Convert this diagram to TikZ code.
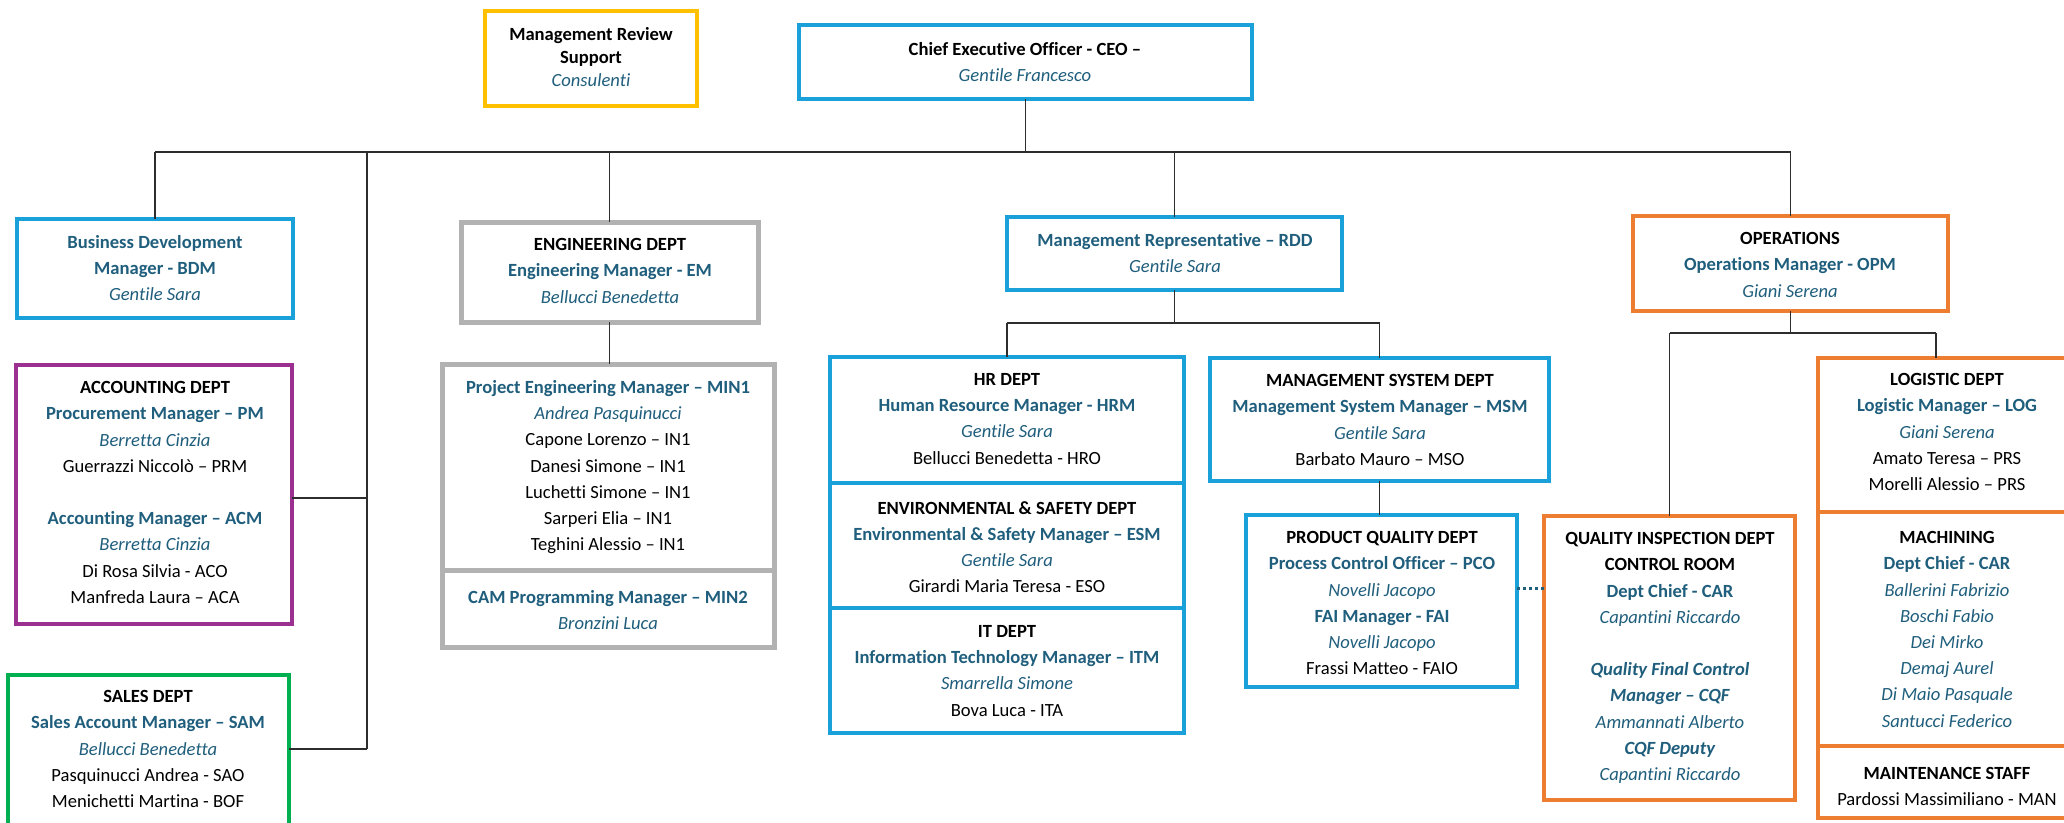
\documentclass[tikz,border=0pt]{standalone}
\usepackage{fontspec}
\setmainfont{Carlito}[Ligatures={NoCommon}]
\definecolor{tealtxt}{RGB}{31,94,124}
\definecolor{bluec}{RGB}{27,161,217}
\definecolor{orangec}{RGB}{237,125,49}
\definecolor{purplec}{RGB}{155,48,145}
\definecolor{greenc}{RGB}{0,176,80}
\definecolor{yellowc}{RGB}{255,192,0}
\definecolor{grayc}{RGB}{178,178,178}
\definecolor{linec}{RGB}{45,45,45}
\newcommand{\HeadT}[1]{\textbf{#1}}
\newcommand{\MgrT}[1]{\textcolor{tealtxt}{\textbf{#1}}}
\newcommand{\NameT}[1]{\textcolor{tealtxt}{\textit{#1}}}
\newcommand{\MgrIT}[1]{\textcolor{tealtxt}{\textbf{\textit{#1}}}}
\tikzset{
  bx/.style={draw=#1, line width=4pt, inner sep=0pt, outer sep=0pt, fill=none},
  txt/.style={inner sep=0pt, outer sep=0pt, align=center, anchor=north, yshift=-2.5pt,
    font=\fontsize{18.6pt}{26.2pt}\selectfont, execute at begin node={\rule{0pt}{15pt}}},
  conn/.style={draw=linec, line width=1.4pt},
  dotc/.style={draw=tealtxt, line width=3pt, dash pattern=on 3pt off 3pt}
}
\begin{document}
\begin{tikzpicture}[x=1pt,y=-1pt]
\useasboundingbox (0,0) rectangle (2064,822);
\clip (0,0) rectangle (2064,822);
\fill[white] (0,0) rectangle (2064,822);

% ---------- boxes ----------
\node[bx=yellowc, minimum width=212pt, minimum height=95pt] (mrs) at (591,58.5) {};
\node[bx=bluec, minimum width=453pt, minimum height=74pt] (ceo) at (1025.5,62) {};
\node[bx=bluec, minimum width=276pt, minimum height=99pt] (bdm) at (155,268.5) {};
\node[bx=grayc, line width=5pt, minimum width=297pt, minimum height=100pt] (eng) at (609.5,272) {};
\node[bx=bluec, minimum width=335pt, minimum height=73pt] (mr) at (1174.5,253.5) {};
\node[bx=orangec, minimum width=315pt, minimum height=95pt] (ops) at (1790.5,263.5) {};
\node[bx=purplec, minimum width=276pt, minimum height=259pt] (acc) at (154,494.5) {};
\node[bx=greenc, minimum width=281pt, minimum height=175pt] (sales) at (148.5,762.5) {};
\node[bx=grayc, line width=5pt, minimum width=332pt, minimum height=206pt] (engA) at (608,467) {};
\node[bx=grayc, line width=5pt, minimum width=332pt, minimum height=77pt] (engB) at (608,608.5) {};
\node[bx=bluec, minimum width=354pt, minimum height=126pt] (hr) at (1007,420) {};
\node[bx=bluec, minimum width=354pt, minimum height=125pt] (env) at (1007,545.5) {};
\node[bx=bluec, minimum width=354pt, minimum height=125pt] (it) at (1007,670.5) {};
\node[bx=bluec, minimum width=339pt, minimum height=123pt] (msd) at (1379.5,419.5) {};
\node[bx=bluec, minimum width=271pt, minimum height=172pt] (pqd) at (1381.5,601) {};
\node[bx=orangec, minimum width=251pt, minimum height=284pt] (qi) at (1669.5,658) {};
\node[bx=orangec, minimum width=258pt, minimum height=154pt] (log) at (1947,435) {};
\node[bx=orangec, minimum width=258pt, minimum height=234pt] (mach) at (1947,629) {};
\node[bx=orangec, minimum width=258pt, minimum height=72pt] (maint) at (1947,782) {};

% ---------- connectors ----------
\coordinate (busL) at (155,152);
\coordinate (busR) at (1790.5,152);
\coordinate (spT) at (367,152);
\coordinate (spB) at (367,749);
\coordinate (accJ) at (367,498);
\coordinate (mrbus) at (1176,323);
\coordinate (opbus) at (1790,333);
\coordinate (opR) at (1936,333);
\coordinate (dotY) at (0,588);
\draw[conn] (ceo.south) -- (ceo.south |- busL);
\draw[conn] (busL) -- (busR);
\draw[conn] (bdm.north) -- (busL);
\draw[conn] (eng.north) -- (eng.north |- busL);
\draw[conn] (mr.north) -- (mr.north |- busL);
\draw[conn] (ops.north) -- (busR);
\draw[conn] (spT) -- (spB);
\draw[conn] (accJ) -- (accJ -| acc.east);
\draw[conn] (spB) -- (spB -| sales.east);
\draw[conn] (eng.south) -- (eng.south |- engA.north);
\draw[conn] (mr.south) -- (mr.south |- mrbus);
\draw[conn] (hr.north |- mrbus) -- (msd.north |- mrbus);
\draw[conn] (hr.north) -- (hr.north |- mrbus);
\draw[conn] (msd.north) -- (msd.north |- mrbus);
\draw[conn] (msd.south) -- (msd.south |- pqd.north);
\draw[conn] (ops.south) -- (ops.south |- opbus);
\draw[conn] (qi.north |- opbus) -- (opR);
\draw[conn] (qi.north) -- (qi.north |- opbus);
\draw[conn] (opR) -- (opR |- log.north);
\draw[dotc] (pqd.east |- dotY) -- (qi.west |- dotY);

% ---------- texts ----------
\node[txt, font=\fontsize{18.6pt}{23pt}\selectfont] (tmrs) at (591,25) {\HeadT{Management Review}\\\HeadT{Support}\\\NameT{Consulenti}};
\node[txt] (tceo) at (1025,40) {\HeadT{Chief Executive Officer - CEO –}\\\NameT{Gentile Francesco}};
\node[txt] (tbdm) at (155,233) {\MgrT{Business Development}\\\MgrT{Manager - BDM}\\\NameT{Gentile Sara}};
\node[txt] (teng) at (610,236) {\HeadT{ENGINEERING DEPT}\\\MgrT{Engineering Manager - EM}\\\NameT{Bellucci Benedetta}};
\node[txt] (tmr) at (1175,231) {\MgrT{Management Representative – RDD}\\\NameT{Gentile Sara}};
\node[txt] (tops) at (1790,230) {\HeadT{OPERATIONS}\\\MgrT{Operations Manager - OPM}\\\NameT{Giani Serena}};
\node[txt] (tacc) at (155,379) {\HeadT{ACCOUNTING DEPT}\\\MgrT{Procurement Manager – PM}\\\NameT{Berretta Cinzia}\\Guerrazzi Niccolò – PRM\\[26.2pt]\MgrT{Accounting Manager – ACM}\\\NameT{Berretta Cinzia}\\Di Rosa Silvia - ACO\\Manfreda Laura – ACA};
\node[txt] (tsales) at (148,688) {\HeadT{SALES DEPT}\\\MgrT{Sales Account Manager – SAM}\\\NameT{Bellucci Benedetta}\\Pasquinucci Andrea - SAO\\Menichetti Martina - BOF};
\node[txt] (tenga) at (608,378) {\MgrT{Project Engineering Manager – MIN1}\\\NameT{Andrea Pasquinucci}\\Capone Lorenzo – IN1\\Danesi Simone – IN1\\Luchetti Simone – IN1\\Sarperi Elia – IN1\\Teghini Alessio – IN1};
\node[txt] (tengb) at (608,588) {\MgrT{CAM Programming Manager – MIN2}\\\NameT{Bronzini Luca}};
\node[txt] (thr) at (1007,371) {\HeadT{HR DEPT}\\\MgrT{Human Resource Manager - HRM}\\\NameT{Gentile Sara}\\Bellucci Benedetta - HRO};
\node[txt] (tenv) at (1007,499) {\HeadT{ENVIRONMENTAL \& SAFETY DEPT}\\\MgrT{Environmental \& Safety Manager – ESM}\\\NameT{Gentile Sara}\\Girardi Maria Teresa - ESO};
\node[txt] (tit) at (1007,623) {\HeadT{IT DEPT}\\\MgrT{Information Technology Manager – ITM}\\\NameT{Smarrella Simone}\\Bova Luca - ITA};
\node[txt] (tmsd) at (1380,372) {\HeadT{MANAGEMENT SYSTEM DEPT}\\\MgrT{Management System Manager – MSM}\\\NameT{Gentile Sara}\\Barbato Mauro – MSO};
\node[txt] (tpqd) at (1382,529) {\HeadT{PRODUCT QUALITY DEPT}\\\MgrT{Process Control Officer – PCO}\\\NameT{Novelli Jacopo}\\\MgrT{FAI Manager - FAI}\\\NameT{Novelli Jacopo}\\Frassi Matteo - FAIO};
\node[txt] (tqi) at (1670,530) {\HeadT{QUALITY INSPECTION DEPT}\\\HeadT{CONTROL ROOM}\\\MgrT{Dept Chief - CAR}\\\NameT{Capantini Riccardo}\\[26.2pt]\MgrIT{Quality Final Control}\\\MgrIT{Manager – CQF}\\\NameT{Ammannati Alberto}\\\MgrIT{CQF Deputy}\\\NameT{Capantini Riccardo}};
\node[txt] (tlog) at (1947,371) {\HeadT{LOGISTIC DEPT}\\\MgrT{Logistic Manager – LOG}\\\NameT{Giani Serena}\\Amato Teresa – PRS\\Morelli Alessio – PRS};
\node[txt] (tmach) at (1947,529) {\HeadT{MACHINING}\\\MgrT{Dept Chief - CAR}\\\NameT{Ballerini Fabrizio}\\\NameT{Boschi Fabio}\\\NameT{Dei Mirko}\\\NameT{Demaj Aurel}\\\NameT{Di Maio Pasquale}\\\NameT{Santucci Federico}};
\node[txt] (tmaint) at (1947,765) {\HeadT{MAINTENANCE STAFF}\\Pardossi Massimiliano - MAN};
\end{tikzpicture}
\end{document}
